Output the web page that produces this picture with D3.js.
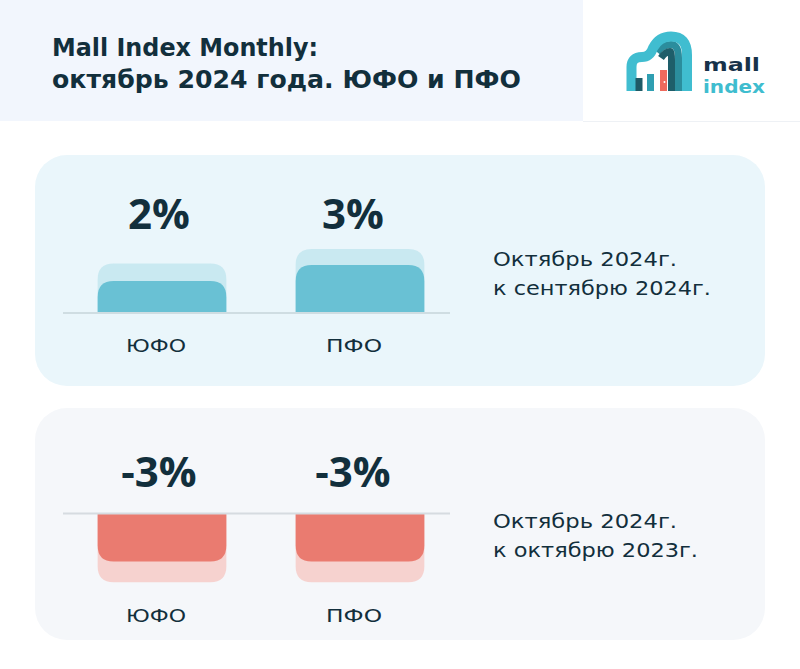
<!DOCTYPE html>
<html>
<head>
<meta charset="utf-8">
<script src="https://cdn.jsdelivr.net/npm/d3@7"></script>
<style>
  html, body { margin: 0; padding: 0; background: #ffffff; }
  svg { display: block; }
  text { font-family: "DejaVu Sans", "Open Sans", sans-serif; }
</style>
</head>
<body>
<svg id="chart" width="800" height="669"></svg>
<script>
// ---------- data ----------
const titleLines = ["Mall Index Monthly:", "октябрь 2024 года. ЮФО и ПФО"];
const categories = ["ЮФО", "ПФО"];
const momValues = [2, 3];          // Октябрь 2024 к сентябрю 2024, %
const momGhost = [3.1, 4.0];       // light backdrop bars
const yoyValues = [-3, -3];        // Октябрь 2024 к октябрю 2023, %
const yoyGhost = [-4.3, -4.3];
const momCaption = ["Октябрь 2024г.", "к сентябрю 2024г."];
const yoyCaption = ["Октябрь 2024г.", "к октябрю 2023г."];

// ---------- drawing ----------
const svg = d3.select("#chart");
const W = 800, H = 669;
const ink = "#122f3c";

function fit(sel, w) {
  sel.each(function () {
    const n = this.getComputedTextLength();
    if (n > 0) d3.select(this).attr("textLength", w).attr("lengthAdjust", "spacingAndGlyphs");
  });
}

svg.append("rect").attr("width", W).attr("height", H).attr("fill", "#ffffff");
// header
svg.append("rect").attr("x", 0).attr("y", 0).attr("width", 583).attr("height", 121).attr("fill", "#f2f6fd");
svg.append("line").attr("x1", 583).attr("x2", 800).attr("y1", 121.5).attr("y2", 121.5).attr("stroke", "#eef1f5");

const titleWidths = [266, 469];
svg.append("g").selectAll("text").data(titleLines).join("text")
  .attr("x", 52).attr("y", (d, i) => 56 + i * 32)
  .attr("font-size", 25).attr("font-weight", 700).attr("fill", ink)
  .text(d => d)
  .each(function (d, i) { fit(d3.select(this), titleWidths[i]); });

// logo
const logo = svg.append("g");
logo.append("path")
  .attr("d", "M657,52 Q663,44.5 671,44.5 Q678.5,44.5 678.5,58 L678.5,91")
  .attr("fill", "none").attr("stroke", "#2b8d9d").attr("stroke-width", 7);
logo.append("path")
  .attr("d", "M661,58 Q665.5,51.5 670,51.5 Q671.5,51.5 671.5,60 L671.5,91")
  .attr("fill", "none").attr("stroke", "#1e5e6a").attr("stroke-width", 7);
logo.append("path")
  .attr("d", "M631.5,91 L631.5,67 Q631.5,57 642,57 Q650,57 653,48 Q659,36.5 671,36.5 Q687,36.5 687,55 L687,91")
  .attr("fill", "none").attr("stroke", "#40bdd0").attr("stroke-width", 10);
const logoBars = [[635.5, 78, "#1f5a66"], [647, 74, "#2f9fb2"], [660, 70, "#ef6a5d"]];
logo.selectAll("rect.lb").data(logoBars).join("rect")
  .attr("x", d => d[0]).attr("y", d => d[1]).attr("width", 7).attr("height", d => 91 - d[1])
  .attr("fill", d => d[2]);
logo.append("circle").attr("cx", 664.5).attr("cy", 82).attr("r", 1).attr("fill", "#ffffff");
logo.append("text").attr("x", 703).attr("y", 71).attr("font-size", 18).attr("font-weight", 700)
  .attr("fill", "#17324a").text("mall").call(fit, 57);
logo.append("text").attr("x", 703).attr("y", 93).attr("font-size", 18).attr("font-weight", 700)
  .attr("fill", "#3fbdcf").text("index").call(fit, 62);

// rounded-end bar path: square at baseline, rounded at far end
function barPath(x, w, y0, y1, r) {
  const up = y1 < y0;
  const h = Math.abs(y1 - y0);
  r = Math.min(r, h, w / 2);
  const s = up ? 1 : -1;
  return `M${x},${y0} L${x},${y1 + s * r} Q${x},${y1} ${x + r},${y1} L${x + w - r},${y1} Q${x + w},${y1} ${x + w},${y1 + s * r} L${x + w},${y0} Z`;
}

function panel(cfg) {
  const g = svg.append("g");
  g.append("rect").attr("x", 35).attr("y", cfg.top).attr("width", 730).attr("height", cfg.height)
    .attr("rx", 32).attr("fill", cfg.bg);

  const x = d3.scaleBand().domain(categories).range([63, 459]).paddingInner(0.35).paddingOuter(0.175);
  const y = d3.scaleLinear().domain([0, 1]).range([cfg.base, cfg.base - 16]);

  g.selectAll("path.ghost").data(cfg.ghost).join("path")
    .attr("d", (d, i) => barPath(x(categories[i]), x.bandwidth(), y(0), y(d), 16))
    .attr("fill", cfg.light);
  g.selectAll("path.bar").data(cfg.values).join("path")
    .attr("d", (d, i) => barPath(x(categories[i]), x.bandwidth(), y(0), y(d), 16))
    .attr("fill", cfg.dark);

  g.append("line").attr("x1", 63).attr("x2", 450).attr("y1", y(0)).attr("y2", y(0))
    .attr("stroke", cfg.axis).attr("stroke-width", 2);

  g.selectAll("text.val").data(cfg.values).join("text")
    .attr("x", (d, i) => x(categories[i]) + x.bandwidth() / 2 - 3 - i * 4)
    .attr("y", cfg.valueY).attr("text-anchor", "middle")
    .style("font-family", "'Open Sans', sans-serif")
    .attr("font-size", 42).attr("font-weight", 700).attr("fill", ink)
    .text(d => d + "%");

  g.selectAll("text.cat").data(categories).join("text")
    .attr("x", d => x(d) + x.bandwidth() / 2 - 6)
    .attr("y", cfg.catY).attr("text-anchor", "middle")
    .attr("font-size", 18).attr("fill", ink)
    .text(d => d)
    .each(function (d, i) { fit(d3.select(this), [60, 56][i]); });

  g.selectAll("text.cap").data(cfg.caption).join("text")
    .attr("x", 493).attr("y", (d, i) => cfg.capY + i * 29)
    .attr("font-size", 19.5).attr("fill", ink)
    .text(d => d)
    .each(function (d, i) { fit(d3.select(this), cfg.capW[i]); });
}

panel({ top: 155, height: 231, bg: "#eaf6fb", base: 313, values: momValues, ghost: momGhost,
        dark: "#69c1d4", light: "#c9e9f1", axis: "#cfdde2", valueY: 229, catY: 352,
        caption: momCaption, capY: 266, capW: [184, 218] });
panel({ top: 408, height: 232, bg: "#f5f7fa", base: 513.5, values: yoyValues, ghost: yoyGhost,
        dark: "#ea7b70", light: "#f6d2cf", axis: "#d6dbe0", valueY: 487, catY: 622,
        caption: yoyCaption, capY: 528, capW: [184, 205] });
</script>
</body>
</html>
